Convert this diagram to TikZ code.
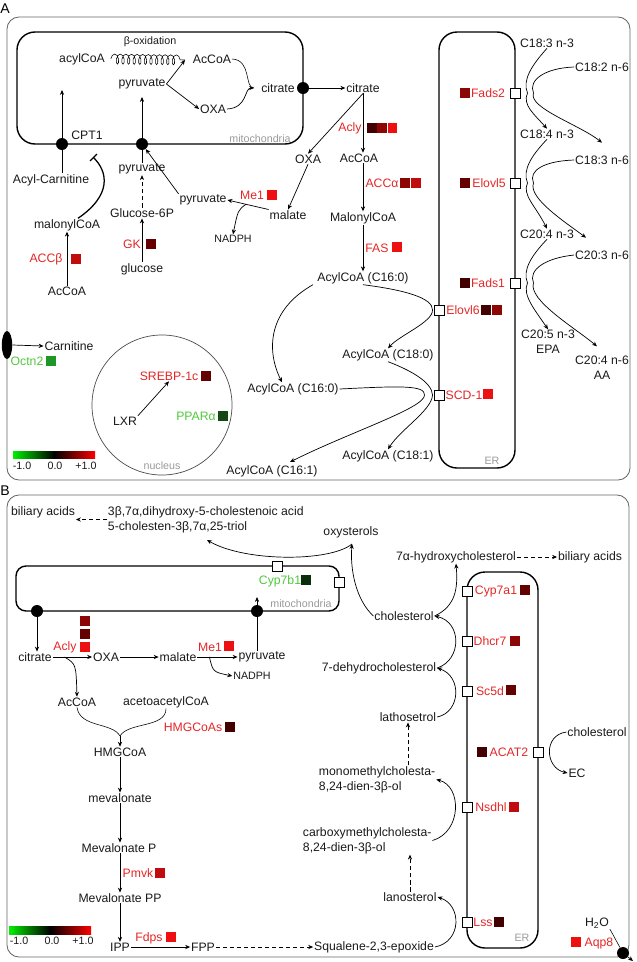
\documentclass[tikz,border=0pt]{standalone}
\usepackage{fontspec}
\setmainfont{Liberation Sans}
\usepackage{tikz}
\usetikzlibrary{calc,positioning,arrows.meta,decorations.pathmorphing,shapes.geometric}
\definecolor{enzred}{RGB}{228,38,38}
\definecolor{enzgreen}{RGB}{80,200,60}
\definecolor{rA}{RGB}{238,16,16}
\definecolor{rB}{RGB}{192,12,12}
\definecolor{rC}{RGB}{140,6,6}
\definecolor{rD}{RGB}{100,0,0}
\definecolor{rE}{RGB}{66,0,0}
\definecolor{gA}{RGB}{30,150,40}
\definecolor{gB}{RGB}{20,72,20}
\definecolor{gC}{RGB}{10,45,10}
\definecolor{barG}{RGB}{0,240,0}
\definecolor{barR}{RGB}{250,0,0}
\newcommand{\metfont}{\fontsize{8.7}{10.6}\selectfont}
\newcommand{\tagfont}{\fontsize{7.6}{9}\selectfont}

\begin{document}
\begin{tikzpicture}[x=0.025cm,y=-0.025cm,
    met/.style={font=\metfont,text=black!90,inner sep=0.5pt},
    smalltxt/.style={font=\tagfont,text=black!90,inner sep=0.5pt},
    tagtxt/.style={font=\tagfont,text=black!40,inner sep=0.5pt},
    enz/.style={font=\metfont,text=enzred,inner sep=0.5pt},
    enzg/.style={font=\metfont,text=enzgreen,inner sep=0.5pt},
    sq/.style={rectangle,fill=#1,minimum size=0.24cm,inner sep=0pt},
    wsq/.style={rectangle,draw,fill=white,minimum size=0.26cm,inner sep=0pt,line width=0.4pt},
    pdot/.style={circle,fill=black,minimum size=0.3cm,inner sep=0pt},
    memb/.style={draw,line width=1pt,rounded corners=0.45cm},
    panel/.style={draw=black!60,line width=0.6pt,rounded corners=0.3cm},
    arr/.style={-{Stealth[length=3.5pt,width=3pt]},line width=0.5pt},
    darr/.style={arr,densely dashed}]
  \useasboundingbox (0,0) rectangle (637,962);

  % ---------------- A: fatty acids ----------------
  \draw[panel] (7,17) rectangle (630,480);
  \node[font=\fontsize{10}{12}\selectfont,inner sep=0.5pt] (labA) at (5,9) {A};

  % mitochondria
  \draw[memb] (17,32) rectangle (303,144);
  \node[tagtxt] (mitoA) at (260,139) {mitochondria};
  \node[met] (acyl) at (82,59) {acylCoA};
  \node[smalltxt] (boxid) at (150,42) {β-oxidation};
  \node[met] (acM) at (212,59) {AcCoA};
  \node[met] (pyM) at (142,84) {pyruvate};
  \node[met] (oxM) at (213,109) {OXA};
  \node[met] (ciM) at (278,88) {citrate};
  \coordinate (boxEnd) at (185,60);
  \coordinate (brA) at (254,88);
  \node[pdot] (dCpt) at (62,144) {};
  \node[pdot] (dPyr) at (142,144) {};
  \node[pdot] (dCit) at (303,88) {};
  \node[met] (cpt) at (87,135) {CPT1};
  \coordinate (cptTop) at (62,90);
  \coordinate (pyTop) at (142,97);
  \coordinate (cptBar) at (93,157);

  % cytosol, left
  \node[met] (acar) at (51,180) {Acyl-Carnitine};
  \node[met] (pyC) at (142,169) {pyruvate};
  \node[met] (g6p) at (142,213) {Glucose-6P};
  \node[enz] (gk) at (132,244) {GK};
  \node[sq=rD] (gkS) at (151,244) {};
  \node[met] (glc) at (142,269) {glucose};
  \node[met] (mal) at (67,225) {malonylCoA};
  \node[enz] (accb) at (46,259) {ACCβ};
  \node[sq=rB] (accbS) at (76,259) {};
  \node[met] (acC) at (67,291) {AcCoA};
  \node[met] (pyX) at (203,200) {pyruvate};
  \node[enz] (me1) at (252,195) {Me1};
  \node[sq=rA,right=1.5pt of me1] (me1S) {};
  \node[met] (mlt) at (288,215) {malate};
  \node[smalltxt] (nadph) at (233,239) {NADPH};

  % cytosol, lipogenesis
  \node[met] (ciC) at (363,88) {citrate};
  \node[met] (oxC) at (308,159) {OXA};
  \node[met] (acCy) at (359,158) {AcCoA};
  \node[enz] (acly) at (350,128) {Acly};
  \node[sq=rE] (aclyS1) at (372,128) {};
  \node[sq=rC,right=0pt of aclyS1] (aclyS2) {};
  \node[sq=rA,right=0pt of aclyS2] (aclyS3) {};
  \node[enz] (acca) at (382,183) {ACCα};
  \node[sq=rC] (accaS1) at (405,183) {};
  \node[sq=rB,right=0.5pt of accaS1] (accaS2) {};
  \node[met] (mcoa) at (363,218) {MalonylCoA};
  \node[enz] (fas) at (377,248) {FAS};
  \node[sq=rA] (fasS) at (397,247) {};
  \node[met] (c160a) at (363,278) {AcylCoA (C16:0)};
  \node[met] (c180) at (388,355) {AcylCoA (C18:0)};
  \node[met] (c160b) at (293,389) {AcylCoA (C16:0)};
  \node[met] (c181) at (388,456) {AcylCoA (C18:1)};
  \node[met] (c161) at (272,471) {AcylCoA (C16:1)};
  \coordinate (c161tip) at (290,462);

  % ER
  \draw[memb] (439,32) rectangle (515,468);
  \node[tagtxt] (erA) at (492,461) {ER};
  \node[wsq] (wFads2) at (515,93) {};
  \node[wsq] (wElovl5) at (515,183) {};
  \node[wsq] (wFads1) at (515,283) {};
  \node[wsq] (wElovl6) at (439,310) {};
  \node[wsq] (wScd) at (439,395) {};
  \node[enz] (fads2) at (488,93) {Fads2};
  \node[sq=rC] (fads2S) at (465,93) {};
  \node[enz] (elovl5) at (489,183) {Elovl5};
  \node[sq=rD] (elovl5S) at (465,183) {};
  \node[enz] (fads1) at (488,283) {Fads1};
  \node[sq=rE] (fads1S) at (465,283) {};
  \node[enz] (elovl6) at (463,310) {Elovl6};
  \node[sq=rE] (elovl6S1) at (486,310) {};
  \node[sq=rC,right=0.5pt of elovl6S1] (elovl6S2) {};
  \node[enz] (scd) at (464,395) {SCD-1};
  \node[sq=rA] (scdS) at (488,394) {};

  % PUFA
  \node[met] (f183) at (547,43) {C18:3 n-3};
  \node[met] (f182) at (602,67) {C18:2 n-6};
  \node[met] (f184) at (547,134) {C18:4 n-3};
  \node[met] (f183b) at (602,160) {C18:3 n-6};
  \node[met] (f204) at (547,234) {C20:4 n-3};
  \node[met] (f203) at (602,255) {C20:3 n-6};
  \node[met,align=center] (epa) at (548,342) {C20:5 n-3\\EPA};
  \node[met,align=center] (aa) at (602,368) {C20:4 n-6\\AA};

  % plasma membrane and nucleus
  \node[ellipse,fill=black,minimum width=0.26cm,minimum height=0.7cm,inner sep=0pt] (octn) at (7,345) {};
  \node[met] (carn) at (69,346) {Carnitine};
  \node[enzg] (octn2) at (27,361) {Octn2};
  \node[sq=gA] (octn2S) at (51,361) {};
  \node[circle,draw=black!70,line width=0.5pt,minimum size=3.5cm,inner sep=0pt] (nuc) at (162,405) {};
  \node[tagtxt] (nucT) at (162,466) {nucleus};
  \node[met] (lxr) at (125,421) {LXR};
  \node[enz] (srebp) at (169,376) {SREBP-1c};
  \node[sq=rD] (srebpS) at (206,376) {};
  \node[enzg] (ppara) at (196,416) {PPARα};
  \node[sq=gB] (pparaS) at (223,416) {};

  % colour scale
  \shade[left color=barG,right color=barR,middle color=black] (13,451) rectangle (95,458);
  \node[smalltxt] (scA1) at (22,466) {-1.0};
  \node[smalltxt] (scA2) at (55,466) {0.0};
  \node[smalltxt] (scA3) at (86,466) {+1.0};

  % connectors A
  \draw[decorate,decoration={coil,aspect=0.5,segment length=1.4mm,amplitude=1.25mm},line width=0.4pt]
    ($(acyl.east)+(5,0)$) -- (boxEnd);
  \draw[arr] (pyM.east) -- (boxEnd);
  \draw[arr] (pyM.east) -- (oxM.west);
  \draw (acM.east) .. controls (252,60) and (244,88) .. (brA);
  \draw[arr] (oxM.east) .. controls (248,108) and (244,88) .. (brA);
  \draw[arr] (acar.north -| dCpt) -- (cptTop);
  \draw[arr] (pyC.north) -- (pyTop);
  \draw[line width=0.9pt,-{Bar[width=7pt]}] ($(mal.north)+(11,0)$) .. controls (112,195) and (108,172) .. (cptBar);
  \draw[arr] (pyX.north west) -- (dPyr);
  \draw[arr,densely dashed] (g6p.north) -- (pyC.south);
  \draw[arr] (glc.north) -- (g6p.south);
  \draw[arr] (acC.north) -- (mal.south);
  \draw[arr] (mlt.north west) -- (pyX.east);
  \draw[arr] ($(pyX.east)!0.45!(mlt.north west)$) .. controls (238,210) .. (nadph.north);
  \draw[arr] (oxC.south) -- (mlt.north);
  \draw[arr] (dCit) -- (ciC.west);
  \draw[arr] (ciC.south) -- (oxC.north);
  \draw[arr] (ciC.south) -- (ciC.south |- acCy.north);
  \draw[arr] (acCy.south -| mcoa.north) -- (mcoa.north);
  \draw[arr] (mcoa.south) -- (c160a.north);
  \draw[arr] ($(c160a.south)+(-50,0)$) .. controls (268,310) and (266,350) .. ($(c160b.north)+(-11,0)$);
  \draw[arr] (c160a.south) .. controls (405,290) and (433,298) .. ($(wElovl6.west)+(-1,0)$)
    .. controls (433,322) and (400,335) .. (c180.north);
  \draw[arr] (c180.south) .. controls (410,370) and (432,382) .. ($(wScd.west)+(-1,0)$)
    .. controls (432,410) and (400,430) .. (c181.north);
  \draw[arr] (c160b.east) .. controls (400,386) and (425,385) .. ($(wScd.west)+(-9,0)$)
    .. controls (425,408) and (350,432) .. (c161tip);
  \draw[arr] (f183.south) .. controls (532,65) and (522,80) .. ($(wFads2.east)+(7,0)$)
    .. controls (522,105) and (535,115) .. (f184.north);
  \draw[arr] (f182.west) .. controls (545,68) and (528,80) .. ($(wFads2.east)+(13,0)$)
    .. controls (528,108) and (580,125) .. ($(f183b.north)+(0,-12)$);
  \draw[arr] (f184.south) .. controls (532,155) and (522,170) .. ($(wElovl5.east)+(7,0)$)
    .. controls (522,195) and (535,205) .. (f204.north);
  \draw[arr] (f183b.west) .. controls (545,161) and (528,170) .. ($(wElovl5.east)+(13,0)$)
    .. controls (528,198) and (565,222) .. ($(f203.north)+(-16,-12)$);
  \draw[arr] (f204.south) .. controls (532,255) and (522,270) .. ($(wFads1.east)+(7,0)$)
    .. controls (522,295) and (535,310) .. (epa.north);
  \draw[arr] (f203.west) .. controls (545,258) and (528,270) .. ($(wFads1.east)+(13,0)$)
    .. controls (528,300) and (575,328) .. ($(aa.north)+(-5,-9)$);
  \draw[arr] (octn.east) -- (carn.west);
  \draw[arr] (lxr.north east) -- (srebp.south);

  % ---------------- B: cholesterol ----------------
  \draw[panel] (7,495) rectangle (629,957);
  \node[font=\fontsize{10}{12}\selectfont,inner sep=0.5pt] (labB) at (5,491) {B};

  % mitochondria
  \draw[memb,rounded corners=0.25cm] (16,566) rectangle (339,611);
  \node[wsq] (wCyp7b1a) at (277,566) {};
  \node[wsq] (wCyp7b1b) at (339,582) {};
  \node[enzg] (cyp7b1) at (280,581) {Cyp7b1};
  \node[sq=gC] (cyp7b1S) at (306,580) {};
  \node[tagtxt] (mitoB) at (301,604) {mitochondria};
  \node[pdot] (dCitB) at (37,611) {};
  \node[pdot] (dPyrB) at (257,611) {};
  \coordinate (pyInB) at (257,597);

  % bile acid branch
  \node[met] (bilL) at (43,512) {biliary acids};
  \node[met,anchor=west,align=left] (dihy) at (107,519.5) {3β,7α,dihydroxy-5-cholestenoic acid\\5-cholesten-3β,7α,25-triol};
  \coordinate (dihyIn) at (207,540);
  \node[met] (oxy) at (351,532) {oxysterols};
  \coordinate (oxyIn) at (352,544);
  \node[met] (h7a) at (456,557) {7α-hydroxycholesterol};
  \node[met] (bilR) at (590,557) {biliary acids};

  % sterols
  \node[met] (cholA) at (404,616) {cholesterol};
  \node[met] (dhc) at (379,668) {7-dehydrocholesterol};
  \node[met] (lath) at (408,717) {lathosetrol};
  \node[met,anchor=west,align=left] (mono) at (318,779.5) {monomethylcholesta-\\8,24-dien-3β-ol};
  \node[met,anchor=west,align=left] (carb) at (302,840.5) {carboxymethylcholesta-\\8,24-dien-3β-ol};
  \node[met] (lano) at (410,897) {lanosterol};
  \node[met] (sqe) at (374,947) {Squalene-2,3-epoxide};

  % ER
  \draw[memb] (467,572) rectangle (538,948);
  \node[tagtxt] (erB) at (522,938) {ER};
  \node[wsq] (wCyp7a1) at (467,591) {};
  \node[wsq] (wDhcr7) at (467,641) {};
  \node[wsq] (wSc5d) at (467,691) {};
  \node[wsq] (wAcat2) at (538,752) {};
  \node[wsq] (wNsdhl) at (467,807) {};
  \node[wsq] (wLss) at (467,922) {};
  \node[enz] (cyp7a1) at (496,591) {Cyp7a1};
  \node[sq=rD] (cyp7a1S) at (525,590) {};
  \node[enz] (dhcr7) at (490,641) {Dhcr7};
  \node[sq=rC] (dhcr7S) at (515,641) {};
  \node[enz] (sc5d) at (490,691) {Sc5d};
  \node[sq=rD] (sc5dS) at (511,690) {};
  \node[enz] (acat2) at (509,752) {ACAT2};
  \node[sq=rE] (acat2S) at (482,752) {};
  \node[enz] (nsdhl) at (491,807) {Nsdhl};
  \node[sq=rB] (nsdhlS) at (514,807) {};
  \node[enz] (lss) at (483,922) {Lss};
  \node[sq=rE] (lssS) at (499,922) {};
  \node[met] (cholB) at (597,732) {cholesterol};
  \node[met] (ec) at (577,773) {EC};

  % water channel
  \node[met] (h2o) at (597,923) {H\textsubscript{2}O};
  \node[enz] (aqp8) at (599,943) {Aqp8};
  \node[sq=rA] (aqp8S) at (576,942) {};
  \node[pdot] (dAqp) at (623,953) {};
  \coordinate (aqpOut) at (633,961);

  % cytosol
  \node[met] (citB) at (35,657) {citrate};
  \node[met] (oxB) at (106,657) {OXA};
  \node[met] (malB) at (178,657) {malate};
  \node[met] (pyB) at (262,657) {pyruvate};
  \node[enz] (aclyB) at (65,647) {Acly};
  \node[sq=rA] (aclyB1) at (85,647) {};
  \node[sq=rD,above=2pt of aclyB1] (aclyB2) {};
  \node[sq=rC,above=2pt of aclyB2] (aclyB3) {};
  \node[enz] (me1B) at (210,647) {Me1};
  \node[sq=rA] (me1BS) at (229,646) {};
  \node[smalltxt] (nadB) at (252,676) {NADPH};
  \node[met] (acB) at (77,702) {AcCoA};
  \node[met] (aacB) at (166,702) {acetoacetylCoA};
  \coordinate (hmgIn) at (120,736);
  \node[enz] (hmgs) at (193,727) {HMGCoAs};
  \node[sq=rE] (hmgsS) at (230,727) {};
  \node[met] (hmgB) at (120,752) {HMGCoA};
  \node[met] (mevB) at (120,798) {mevalonate};
  \node[met] (mevP) at (119,848) {Mevalonate P};
  \node[enz] (pmvk) at (138,873) {Pmvk};
  \node[sq=rB] (pmvkS) at (160,873) {};
  \node[met] (mevPP) at (120,898) {Mevalonate PP};
  \node[met] (ippB) at (120,947) {IPP};
  \node[enz] (fdps) at (149,938) {Fdps};
  \node[sq=rA] (fdpsS) at (171,937) {};
  \node[met] (fppB) at (203,947) {FPP};

  % colour scale
  \shade[left color=barG,right color=barR,middle color=black] (9,926) rectangle (91,934);
  \node[smalltxt] (scB1) at (19,941) {-1.0};
  \node[smalltxt] (scB2) at (52,941) {0.0};
  \node[smalltxt] (scB3) at (83,941) {+1.0};

  % connectors B
  \draw[darr] (dihy.west) -- (dihy.west -| bilL.east);
  \draw[arr] (oxyIn) .. controls (330,562) and (245,562) .. (dihyIn);
  \draw[arr] (cholA.west) .. controls (356,600) and (350,570) .. (oxyIn);
  \draw[darr] (h7a.east) -- (bilR.west);
  \draw[arr] (cholA.east) .. controls (456,606) and (458,588) .. (h7a.south);
  \draw[arr] (dhc.east) .. controls (462,660) and (462,622) .. (cholA.east);
  \draw[arr] (lath.east) .. controls (461,712) and (462,676) .. (dhc.east);
  \draw[arr] (carb.east) .. controls (462,832) and (462,786) .. (mono.east);
  \draw[arr] (sqe.east) .. controls (462,942) and (462,905) .. (lano.east);
  \draw[darr] (lano.north) -- (lano.north |- carb.south);
  \draw[darr] (mono.north -| lath.south) -- (lath.south);
  \draw[arr] (cholB.west) .. controls (543,735) and (545,768) .. (ec.west);
  \draw (h2o.south east) -- (dAqp);
  \draw[arr] (dAqp) -- (aqpOut);
  \draw[arr] (dCitB) -- (dCitB |- citB.north);
  \draw[arr] (pyB.north -| dPyrB) -- (pyInB);
  \draw[arr] (citB.east) -- (oxB.west);
  \draw[arr] (oxB.east) -- (malB.west);
  \draw[arr] (malB.east) -- (pyB.west);
  \draw[arr] ($(malB.east)!0.3!(pyB.west)$) .. controls (213,672) .. (nadB.west);
  \draw[arr] ($(citB.east)!0.3!(oxB.west)$) .. controls (76,664) .. (acB.north);
  \draw (acB.south) .. controls (80,728) and (112,722) .. (hmgIn);
  \draw (aacB.south) .. controls (166,728) and (128,722) .. (hmgIn);
  \draw[arr] (hmgIn) -- (hmgB.north);
  \draw[arr] (hmgB.south) -- (mevB.north);
  \draw[arr] (mevB.south) -- (mevB.south |- mevP.north);
  \draw[arr] (mevP.south -| mevPP.north) -- (mevPP.north);
  \draw[arr] (mevPP.south) -- (ippB.north);
  \draw[arr] (ippB.east) -- (fppB.west);
  \draw[darr] (fppB.east) -- (sqe.west);
\end{tikzpicture}
\end{document}
